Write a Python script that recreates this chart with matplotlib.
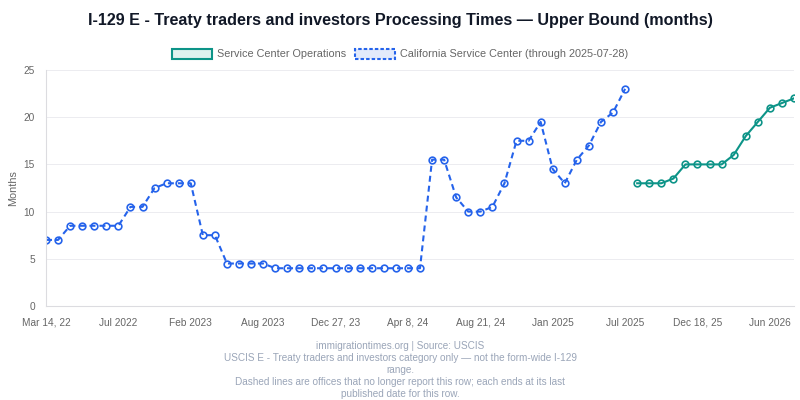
import matplotlib
matplotlib.use("Agg")
import matplotlib.pyplot as plt
from matplotlib.patches import Patch
import numpy as np

plt.rcParams['font.family'] = ['Liberation Sans', 'DejaVu Sans']
plt.rcParams['lines.scale_dashes'] = False

# values, one point per publication date
california = [7, 7, 8.5, 8.5, 8.5, 8.5, 8.5, 10.5, 10.5, 12.5, 13, 13, 13,
              7.5, 7.5, 4.5, 4.5, 4.5, 4.5, 4, 4, 4, 4, 4, 4, 4, 4, 4, 4,
              4, 4, 4, 15.5, 15.5, 11.5, 10, 10, 10.5, 13, 17.5, 17.5, 19.5,
              14.5, 13, 15.5, 17, 19.5, 20.5, 23]
service_center = [13, 13, 13, 13.5, 15, 15, 15, 15, 16, 18, 19.5, 21, 21.5, 22]

tick_labels = ['Mar 14, 22', 'Jul 2022', 'Feb 2023', 'Aug 2023', 'Dec 27, 23',
               'Apr 8, 24', 'Aug 21, 24', 'Jan 2025', 'Jul 2025',
               'Dec 18, 25', 'Jun 2026']

blue = '#2563eb'
green = '#0d9488'
grey = '#666666'

n_total = len(california) + len(service_center)
x_cal = np.arange(len(california))
x_sc = np.arange(len(california), n_total)

fig = plt.figure(figsize=(8, 4), dpi=100)
ax = fig.add_axes([46 / 800, 1 - 306 / 400, 748 / 800, 236 / 400])

ax.plot(x_cal, california, color=blue, lw=1.5, dashes=(4.3, 2.9),
        marker='o', ms=4.8, mfc='none', mec=blue, mew=1.2)
ax.plot(x_sc, service_center, color=green, lw=1.5,
        marker='o', ms=4.8, mfc='none', mec=green, mew=1.2)

ax.set_xlim(0, n_total - 1)
ax.set_ylim(0, 25)
ax.set_yticks(range(0, 26, 5))
ax.set_xticks(range(0, n_total, 6))
ax.set_xticklabels(tick_labels)
ax.tick_params(length=0, colors=grey, labelsize=7.3)
ax.tick_params(axis='x', pad=14.2)
ax.tick_params(axis='y', pad=8)
for lbl in ax.get_xticklabels():
    lbl.set_verticalalignment('baseline')
ax.grid(axis='y', color='#ececf0', lw=0.7)
ax.set_axisbelow(True)
for s in ['top', 'right']:
    ax.spines[s].set_visible(False)
for s in ['left', 'bottom']:
    ax.spines[s].set_color('#dcdce0')
    ax.spines[s].set_linewidth(0.8)
ax.set_ylabel('Months', color=grey, fontsize=7.8, labelpad=4)

fig.text(0.5, 1 - 20 / 400, 'I-129 E - Treaty traders and investors Processing Times \u2014 Upper Bound (months)',
         ha='center', va='center', fontsize=11.6, fontweight='bold', color='#111827')

handles = [Patch(facecolor='#dff2ef', edgecolor=green, lw=1.5),
           Patch(facecolor='#e3eafb', edgecolor=blue, lw=1.5, linestyle=(0, (2.5, 1.5)))]
fig.legend(handles, ['Service Center Operations', 'California Service Center (through 2025-07-28)'],
           loc='center', bbox_to_anchor=(0.5, 1 - 54 / 400), ncol=2, frameon=False,
           fontsize=7.8, labelcolor=grey, handlelength=3.7, handleheight=1.1,
           handletextpad=0.45, columnspacing=0.8)

footer = ['immigrationtimes.org | Source: USCIS',
          'USCIS E - Treaty traders and investors category only \u2014 not the form-wide I-129',
          'range.',
          'Dashed lines are offices that no longer report this row; each ends at its last',
          'published date for this row.']
for i, line in enumerate(footer):
    fig.text(0.5, 1 - (346 + 12 * i) / 400, line, ha='center', va='center',
             fontsize=7.2, color='#9aa5b8')

fig.savefig('out.png', dpi=100)
